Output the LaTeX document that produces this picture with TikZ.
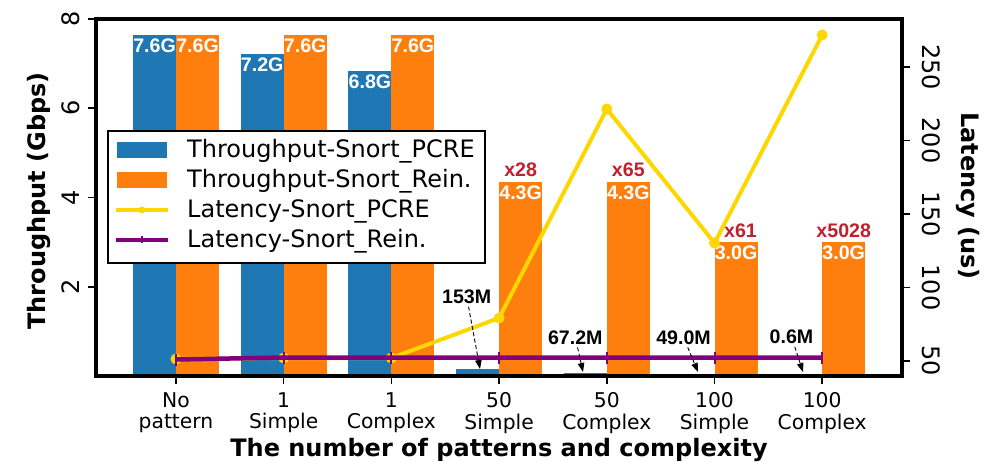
\documentclass[tikz,border=0pt]{standalone}
\usepackage{fontspec}
\setmainfont{DejaVu Sans}
\newfontfamily\lblfont{Liberation Sans}
\usetikzlibrary{arrows.meta}

\definecolor{tpblue}{HTML}{1F77B4}
\definecolor{tporange}{HTML}{FF7F0E}
\definecolor{latgold}{HTML}{FFD700}
\definecolor{latpurple}{HTML}{800080}
\definecolor{ratiored}{HTML}{C0202E}

\newcommand\xtickfont{\fontsize{20.3}{21.8}\selectfont}
\newcommand\ytickfont{\fontsize{24}{28}\selectfont}
\newcommand\axlabelfont{\fontsize{24}{28}\selectfont\bfseries}
\newcommand\legendfont{\fontsize{24}{28}\selectfont}
\newcommand\valuefont{\lblfont\bfseries\fontsize{19.6}{22}\selectfont}

\begin{document}
\begin{tikzpicture}[x=1pt,y=-1pt,
  valuelab/.style={font=\valuefont, text=white, inner sep=0pt, anchor=north},
  ratiolab/.style={font=\valuefont, text=ratiored, inner sep=0pt, anchor=base},
  annlab/.style={font=\valuefont, text=black, inner sep=3pt, anchor=base},
  annarrow/.style={draw=black, line width=0.9pt, dash pattern=on 4pt off 2.5pt,
    -{Triangle[length=9pt,width=6.5pt]}},
  pcreline/.style={draw=latgold, line width=4pt, line join=round},
  reinline/.style={draw=latpurple, line width=4.5pt, line join=round},
  reinmark/.style={draw=latpurple, line width=2pt},
  tickline/.style={draw=black, line width=1.5pt},
  xticklab/.style={font=\xtickfont, align=center, inner sep=0pt, anchor=north},
  lticklab/.style={font=\ytickfont, inner sep=0pt, anchor=base, rotate=90},
  rticklab/.style={font=\ytickfont, inner sep=0pt, anchor=base, rotate=-90},
  legtext/.style={font=\legendfont, inner sep=0pt, anchor=base west},
]
\useasboundingbox (0,0) rectangle (1006,462);

% throughput bars (blue: Snort PCRE, orange: Snort Rein.)
\foreach \c/\b/\o in {176/7.64/7.64, 283.7/7.21/7.64, 391.4/6.83/7.64,
    499.1/0.153/4.35, 606.8/0.0672/4.35, 714.5/0.049/3.0, 822.2/0.0006/3.0}{
  \fill[tpblue] ({\c-43},376) rectangle (\c,{376-44.625*\b});
  \fill[tporange] (\c,376) rectangle ({\c+43},{376-44.625*\o});
}

% value labels inside the bars
\foreach \c/\v/\t [count=\i] in {176/7.64/7.6G, 283.7/7.21/7.2G, 391.4/6.83/6.8G}{
  \node[valuelab] (bv\i) at ({\c-21.5},{376-44.625*\v+3.5}) {\t};
}
\foreach \c/\v/\t [count=\i] in {176/7.64/7.6G, 283.7/7.64/7.6G, 391.4/7.64/7.6G,
    499.1/4.35/4.3G, 606.8/4.35/4.3G, 714.5/3.0/3.0G, 822.2/3.0/3.0G}{
  \node[valuelab] (ov\i) at ({\c+21.5},{376-44.625*\v+3.5}) {\t};
}

% speed-up ratios above the Rein. bars
\node[ratiolab] (r4) at (520.6,{376-44.625*4.35-5}) {x28};
\node[ratiolab] (r5) at (628.3,{376-44.625*4.35-5}) {x65};
\node[ratiolab] (r6) at (740.5,{376-44.625*3.0-5}) {x61};
\node[ratiolab] (r7) at (843.7,{376-44.625*3.0-5}) {x5028};

% latency of Snort PCRE
\coordinate (p1) at (176,359);
\coordinate (p2) at (283.7,358);
\coordinate (p3) at (391.4,358);
\coordinate (p4) at (499.1,318);
\coordinate (p5) at (606.8,109);
\coordinate (p6) at (714.5,243);
\coordinate (p7) at (822.2,35);
\draw[pcreline] (p1) -- (p2) -- (p3) -- (p4) -- (p5) -- (p6) -- (p7);
\foreach \i in {1,...,7}{ \fill[latgold] (p\i) circle (5.5); }

% latency of Snort Rein.
\coordinate (q1) at (176,359.5);
\coordinate (q2) at (283.7,357.5);
\coordinate (q3) at (391.4,357.5);
\coordinate (q4) at (499.1,357.5);
\coordinate (q5) at (606.8,357.5);
\coordinate (q6) at (714.5,357.5);
\coordinate (q7) at (822.2,357.5);
\draw[reinline] (q1) -- (q2) -- (q3) -- (q4) -- (q5) -- (q6) -- (q7);
\foreach \i in {1,...,7}{ \draw[reinmark] ([yshift=-6pt]q\i) -- ([yshift=6pt]q\i); }

% throughput of the tiny PCRE bars
\node[annlab] (a1) at (466.7,303.3) {153M};
\node[annlab] (a2) at (575.3,344) {67.2M};
\node[annlab] (a3) at (683.5,344) {49.0M};
\node[annlab] (a4) at (791.5,343.5) {0.6M};
\coordinate (t1) at (480,369);
\coordinate (t2) at (583,372);
\coordinate (t3) at (698,372);
\coordinate (t4) at (803,372);
\foreach \i in {1,...,4}{ \draw[annarrow] (a\i) -- (t\i); }

% axes frame
\draw[line width=3.5pt] (96,19) rectangle (902,376);

% left axis: throughput
\foreach \v in {8,6,4,2}{
  \draw[tickline] (96,{376-44.625*\v}) -- (88,{376-44.625*\v});
  \node[lticklab] (lt\v) at (79,{376-44.625*\v}) {\v};
}
\node[font=\axlabelfont, inner sep=0pt, anchor=base, rotate=90] (ylab) at (45,201) {Throughput (Gbps)};

% right axis: latency
\foreach \l in {250,200,150,100,50}{
  \draw[tickline] (902,{361-(\l-50)*1.47}) -- (910,{361-(\l-50)*1.47});
  \node[rticklab] (rt\l) at (922,{361-(\l-50)*1.47}) {\l};
}
\node[font=\axlabelfont, inner sep=0pt, anchor=base, rotate=-90] (y2lab) at (961,196) {Latency (us)};

% bottom axis
\foreach \c/\t [count=\i] in {176/No\\pattern, 283.7/1\\Simple, 391.4/1\\Complex,
    499.1/50\\Simple, 606.8/50\\Complex, 714.5/100\\Simple, 822.2/100\\Complex}{
  \draw[tickline] (\c,376) -- (\c,384);
  \node[xticklab] (xt\i) at (\c,392) {\t};
}
\node[font=\axlabelfont, inner sep=0pt, anchor=base] (xlab) at (499,456) {The number of patterns and complexity};

% legend
\draw[line width=1.5pt, fill=white] (108,131) rectangle (485,263);
\fill[tpblue] (117,142) rectangle (167,158);
\fill[tporange] (117,172) rectangle (167,188);
\draw[pcreline] (116,210) -- (168,210);
\fill[latgold] (142,210) circle (3.5);
\draw[draw=latpurple, line width=4pt] (116,240) -- (168,240);
\draw[draw=latpurple, line width=1.5pt] (142,236.5) -- (142,243.5);
\node[legtext] (lg1) at (187,158) {Throughput-Snort\_PCRE};
\node[legtext] (lg2) at (187,188) {Throughput-Snort\_Rein.};
\node[legtext] (lg3) at (187,218) {Latency-Snort\_PCRE};
\node[legtext] (lg4) at (187,248) {Latency-Snort\_Rein.};
\end{tikzpicture}
\end{document}
